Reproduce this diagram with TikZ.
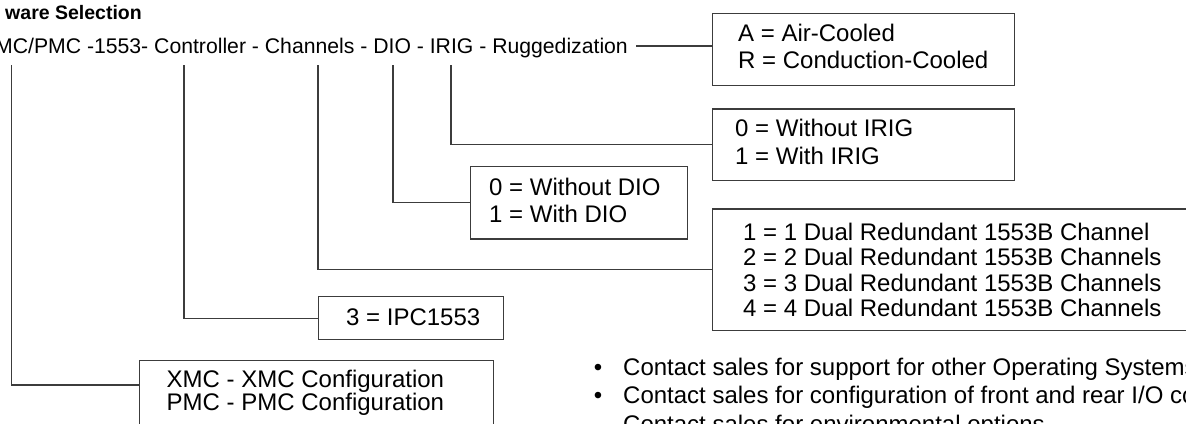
\documentclass[tikz,border=0pt]{standalone}
\usepackage{fontspec}
\setmainfont{Liberation Sans}
\definecolor{linec}{HTML}{3C3C3C}
\begin{document}
\begin{tikzpicture}[x=1pt,y=-1pt,
  box/.style={draw=linec,line width=1.2pt,rectangle,inner sep=0pt,anchor=north west},
  txt/.style={inner sep=0pt,anchor=base west,font=\fontsize{24}{28}\selectfont},
  conn/.style={draw=linec,line width=1.2pt}]
\useasboundingbox (0,0) rectangle (1186,423);
\clip (0,0) rectangle (1186,423);
% heading and code line
\node[inner sep=0pt,anchor=base east,font=\fontsize{19.5}{22}\selectfont\bfseries] (head) at (142,19.3) {ware Selection};
\node[inner sep=0pt,anchor=base west,font=\fontsize{21.2}{24}\selectfont] (code) at (-5,53.3) {MC/PMC -1553- Controller - Channels - DIO - IRIG - Ruggedization};
% boxes
\node[box,minimum width=302pt,minimum height=72.3pt] (ar) at (712,12.7) {};
\node[box,minimum width=302pt,minimum height=71.7pt] (irig) at (712,108.3) {};
\node[box,minimum width=216.7pt,minimum height=72.3pt] (dio) at (470,166) {};
\node[box,minimum width=500pt,minimum height=121.7pt] (chan) at (712,208.3) {};
\node[box,minimum width=185.4pt,minimum height=43pt] (ipc) at (317.6,296) {};
\node[box,minimum width=354pt,minimum height=90pt] (xmc) at (139,360) {};
% box texts
\node[txt] (ar1) at (738,41.7) {A = Air-Cooled};
\node[txt] (ar2) at (738,68.3) {R = Conduction-Cooled};
\node[txt] (ir1) at (735,136) {0 = Without IRIG};
\node[txt] (ir2) at (735,164) {1 = With IRIG};
\node[txt] (di1) at (489,195) {0 = Without DIO};
\node[txt] (di2) at (489,222.7) {1 = With DIO};
\node[txt] (ch1) at (743,240) {1 = 1 Dual Redundant 1553B Channel};
\node[txt] (ch2) at (743,265.5) {2 = 2 Dual Redundant 1553B Channels};
\node[txt] (ch3) at (743,291) {3 = 3 Dual Redundant 1553B Channels};
\node[txt] (ch4) at (743,316.5) {4 = 4 Dual Redundant 1553B Channels};
\node[txt] (ip1) at (346,325) {3 = IPC1553};
\node[txt] (xm1) at (166.5,387) {XMC - XMC Configuration};
\node[txt] (xm2) at (166.5,410) {PMC - PMC Configuration};
% notes
\node[txt,anchor=base] (b1) at (598,375) {•};
\node[txt,anchor=base] (b2) at (598,403) {•};
\node[txt] (n1) at (623,375) {Contact sales for support for other Operating Systems};
\node[txt] (n2) at (623,403) {Contact sales for configuration of front and rear I/O co};
\node[txt] (n3) at (623,432) {Contact sales for environmental options};
% connectors
\coordinate (rug) at (636,46);
\coordinate (s1) at (11.5,65);
\coordinate (s2) at (184,65);
\coordinate (s3) at (318,65);
\coordinate (s4) at (393,65);
\coordinate (s5) at (451,65);
\coordinate (xmy) at (0,385);
\draw[conn] (rug) -- (rug -| ar.west);
\draw[conn] (s5) |- (irig.west);
\draw[conn] (s4) |- (dio.west);
\draw[conn] (s3) |- (chan.west);
\draw[conn] (s2) |- (ipc.west);
\draw[conn] (s1) |- (xmc.west |- xmy);
\end{tikzpicture}
\end{document}
